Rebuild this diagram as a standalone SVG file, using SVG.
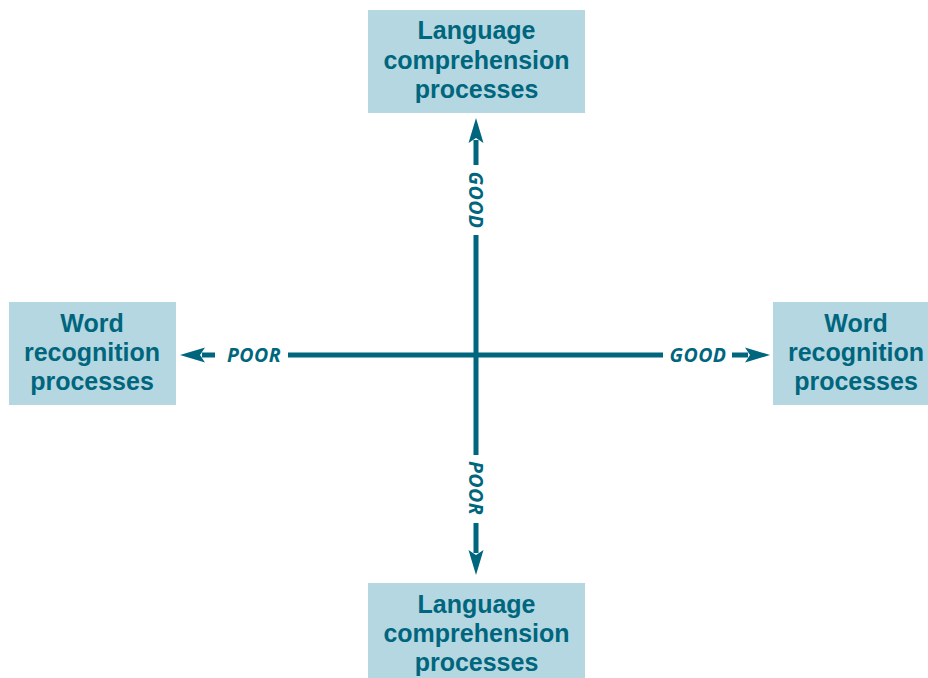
<svg xmlns="http://www.w3.org/2000/svg" width="928" height="678" viewBox="0 0 928 678">
<style>
.box{fill:#b5d7e1}
.t{font-family:"Liberation Sans",Arial,sans-serif;font-weight:bold;font-size:25px;fill:#00667e;text-anchor:middle}
.lbl{font-family:"Open Sans","Noto Sans",sans-serif;font-weight:bold;font-style:italic;font-size:19.5px;letter-spacing:0.5px;fill:#00667e;text-anchor:middle}
.ln{stroke:#00667e;stroke-width:5;fill:none;marker-end:url(#ah)}
</style>
<defs>
<marker id="ah" markerUnits="userSpaceOnUse" markerWidth="26" markerHeight="16" refX="3" refY="7.5" orient="auto" viewBox="0 0 26 15">
<path d="M0,0 L25,7.5 L0,15 L5,7.5 Z" fill="#00667e"/>
</marker>
</defs>
<rect width="928" height="678" fill="#ffffff"/>
<g id="top">
<rect class="box" x="368" y="10" width="217" height="103"/>
<text class="t" y="39"><tspan x="476.5">Language</tspan><tspan x="476.5" dy="29.5">comprehension</tspan><tspan x="476.5" dy="29.5">processes</tspan></text>
</g>
<g id="bottom">
<rect class="box" x="368" y="583" width="217" height="103"/>
<text class="t" y="613"><tspan x="476.5">Language</tspan><tspan x="476.5" dy="29">comprehension</tspan><tspan x="476.5" dy="29">processes</tspan></text>
</g>
<g id="left">
<rect class="box" x="9" y="302" width="167" height="103"/>
<text class="t" y="332"><tspan x="92">Word</tspan><tspan x="92" dy="29">recognition</tspan><tspan x="92" dy="29">processes</tspan></text>
</g>
<g id="right">
<rect class="box" x="773" y="302" width="167" height="103"/>
<text class="t" y="332"><tspan x="856">Word</tspan><tspan x="856" dy="29">recognition</tspan><tspan x="856" dy="29">processes</tspan></text>
</g>
<g id="connectors">
<path class="ln" d="M476,355 V235 M476,165 V140"/>
<path class="ln" d="M476,355 V455 M476,523 V553"/>
<path class="ln" d="M476,355 H288 M215,355 H202"/>
<path class="ln" d="M476,355 H663 M732,355 H748"/>
<text class="lbl" transform="translate(476,200) rotate(90)" y="7">GOOD</text>
<text class="lbl" transform="translate(476,488) rotate(90)" y="7">POOR</text>
<text class="lbl" x="254" y="362">POOR</text>
<text class="lbl" x="698" y="362">GOOD</text>
</g>
</svg>
